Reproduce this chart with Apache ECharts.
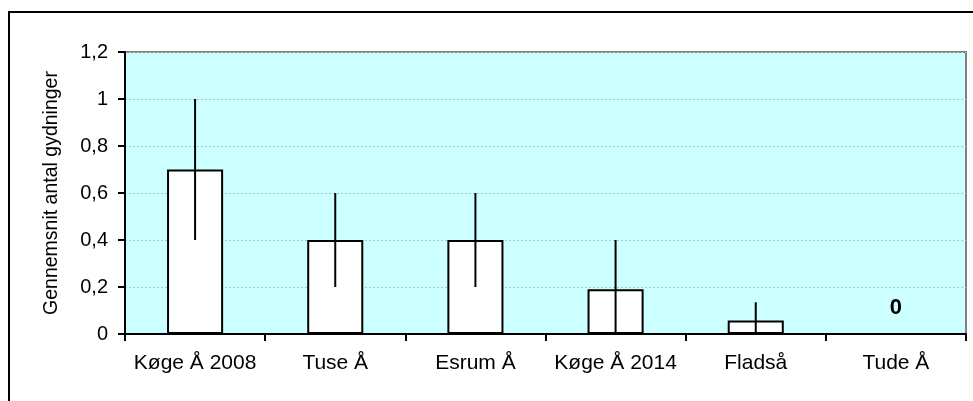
<!DOCTYPE html>
<html style="height: 100%">
<head>
	<meta charset="utf-8">
	<title></title>
	<script type="text/javascript" src="https://cdn.jsdelivr.net/npm/echarts@6/dist/echarts.min.js"></script>
	<script type="text/javascript">
		// data
		var categories = ['Køge Å 2008', 'Tuse Å', 'Esrum Å', 'Køge Å 2014', 'Fladså', 'Tude Å'];
		var means = [0.7, 0.4, 0.4, 0.19, 0.057, 0];
		var errLow = [0.4, 0.2, 0.2, 0, 0, null];
		var errHigh = [1.0, 0.6, 0.6, 0.4, 0.135, null];
		var yTicks = [0, 0.2, 0.4, 0.6, 0.8, 1, 1.2];

		window.onload = function(){
			var dom = document.getElementById("container");
			var myChart = echarts.init(dom);
			var font = 'Liberation Sans, Arial, sans-serif';

			var barData = [];
			for (var i = 0; i < means.length; i++) {
				var item = {value: means[i]};
				if (means[i] === 0) {
					item.label = {show: true, position: 'top', distance: 14,
						formatter: '0', fontWeight: 'bold', fontSize: 22, color: '#000', fontFamily: font};
				}
				barData.push(item);
			}
			var errData = [];
			for (var i = 0; i < categories.length; i++) {
				if (errLow[i] !== null) errData.push([i, errLow[i], errHigh[i]]);
			}

			var option = {
				animation: false,
				textStyle: {fontFamily: font, color: '#000'},
				graphic: [{
					type: 'rect',
					shape: {x: 9, y: 12, width: 1000, height: 500},
					style: {fill: 'none', stroke: '#000', lineWidth: 2},
					silent: true
				}],
				grid: {
					left: 125, right: 7, top: 52, bottom: 67,
					show: true,
					backgroundColor: '#CCFFFF',
					borderColor: '#808080',
					borderWidth: 2
				},
				xAxis: {
					type: 'category',
					data: categories,
					axisLine: {lineStyle: {color: '#000', width: 2}},
					axisTick: {show: true, length: 7, lineStyle: {color: '#000', width: 2}},
					axisLabel: {color: '#000', fontSize: 21, margin: 19, fontFamily: font, interval: 0}
				},
				yAxis: {
					type: 'value',
					min: yTicks[0],
					max: yTicks[yTicks.length - 1],
					interval: 0.2,
					name: 'Gennemsnit antal gydninger',
					nameLocation: 'middle',
					nameGap: 63,
					nameTextStyle: {color: '#000', fontSize: 19.5, fontFamily: font},
					axisLine: {show: true, lineStyle: {color: '#000', width: 2}},
					axisTick: {show: true, length: 7, lineStyle: {color: '#000', width: 2}},
					axisLabel: {
						color: '#000', fontSize: 20, margin: 17, fontFamily: font,
						formatter: function(v){ return String(Math.round(v * 10) / 10).replace('.', ','); }
					},
					splitLine: {show: true, lineStyle: {color: '#b0c4c4', type: [2, 2], width: 1}}
				},
				series: [{
					type: 'bar',
					data: barData,
					barWidth: '40%',
					itemStyle: {color: '#fff', borderColor: '#000', borderWidth: 2},
					z: 2
				}, {
					type: 'custom',
					data: errData,
					z: 3,
					renderItem: function(params, api){
						var p1 = api.coord([api.value(0), api.value(1)]);
						var p2 = api.coord([api.value(0), api.value(2)]);
						return {
							type: 'line',
							shape: {x1: p1[0], y1: p1[1], x2: p2[0], y2: p2[1]},
							style: {stroke: '#000', lineWidth: 2}
						};
					}
				}]
			};
			myChart.setOption(option);
		};
	</script>
</head>
<body style="height: 100%; margin: 0; background: #fff">
<div id="container" style="width: 973px; height: 401px"></div>
</body>
</html>
